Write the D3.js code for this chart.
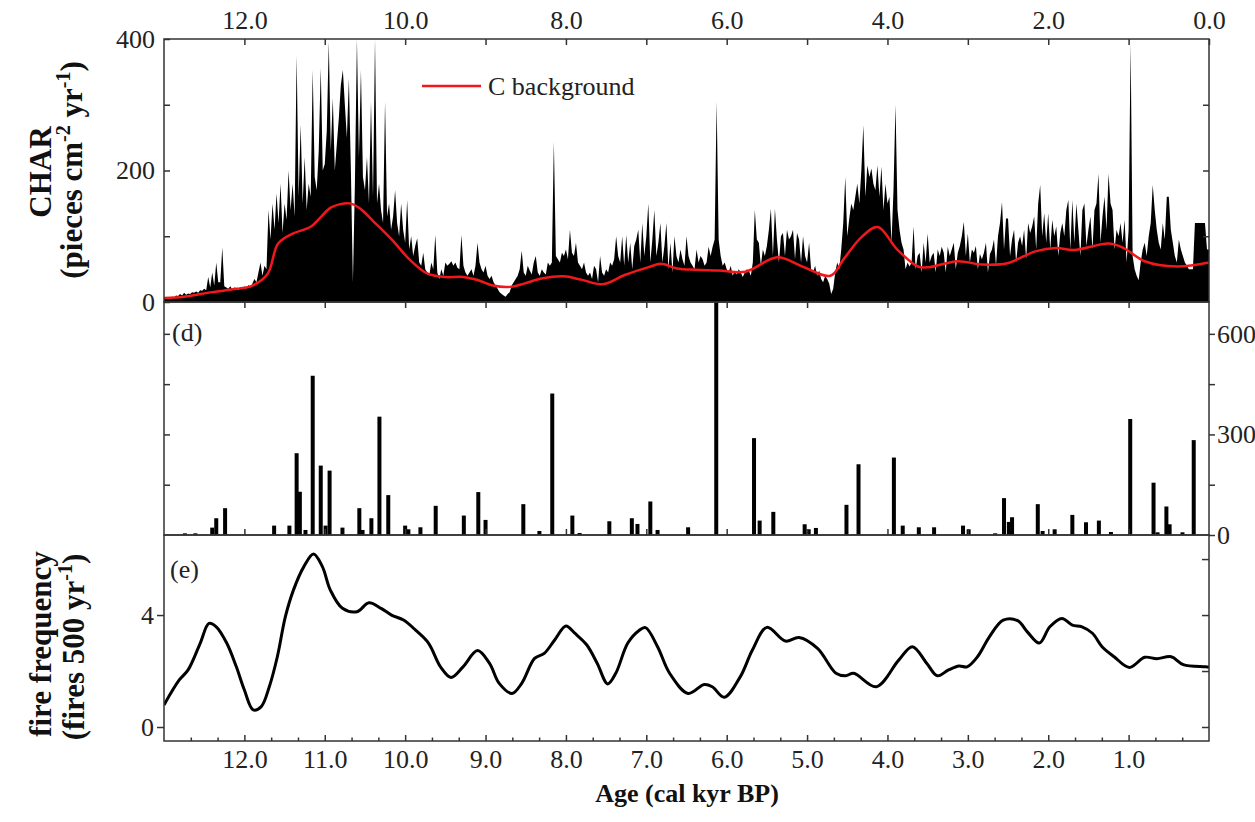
<!DOCTYPE html>
<html>
<head>
<meta charset="utf-8">
<script src="https://cdn.jsdelivr.net/npm/d3@7"></script>
<style>
body { margin: 0; background: #fff; }
svg { display: block; font-family: "Liberation Serif", "Times New Roman", serif; }
.axis line { stroke: #333; stroke-width: 1.5; }
.title { font-weight: bold; fill: #111; }
</style>
</head>
<body>
<script>
// ---- data ----
// CHAR record, one value every 0.025 kyr from 13.0 down to 0.0 cal kyr BP
var charStart = 13.0, charStep = 0.025;
var charVals = [
  5,6,6,7, 8,7,10,9, 12,10,14,11, 13,12,15,14, 16,14,18,17, 20,18,38,22, 45,25,60,30, 30,83,24,22, 20,24,19,22, 21,18,23,20,
  24,20,26,22, 28,35,30,45, 60,40,55,50, 140,95,150,110, 165,120,180,105, 150,125,200,140, 180,130,375,160, 270,150,220,140, 180,160,353,190, 170,230,356,200,
  210,260,396,230, 310,200,240,280, 330,353,300,250, 340,200,30,180, 400,220,353,190, 170,220,150,305, 160,400,150,180, 140,120,305,130, 150,110,130,170, 120,100,150,110,
  90,155,80,100, 70,85,97,60, 55,75,50,45, 40,60,50,102, 45,35,50,40, 60,55,58,62, 55,60,52,50, 102,55,45,40, 45,50,40,55, 90,60,50,45,
  55,40,35,40, 30,25,20,15, 12,10,8,12, 15,25,30,35, 40,50,78,45, 40,55,48,42, 60,70,45,40, 50,45,42,60, 55,60,244,70, 65,60,75,70,
  80,65,110,75, 70,90,60,55, 50,60,45,40, 45,35,55,50, 30,70,45,40, 50,45,60,55, 65,100,70,60, 100,55,102,60, 90,50,85,95, 110,60,120,70,
  100,150,60,95, 140,70,90,120, 60,85,120,50, 90,45,100,70, 60,80,65,55, 100,70,60,55, 50,80,60,70, 65,55,60,84, 70,84,95,305, 95,70,55,60,
  50,45,55,40, 48,42,50,45, 38,45,50,48, 40,60,140,95, 90,55,80,70, 85,110,142,70, 142,95,60,100, 105,70,110,95, 100,110,65,105, 95,60,100,70,
  60,90,50,45, 55,40,48,35, 30,40,35,28, 12,20,45,60, 50,80,120,190, 100,127,150,140, 160,180,150,200, 269,160,208,190, 203,180,170,208, 160,206,140,180,
  150,160,90,170, 300,140,110,90, 80,50,60,54, 60,115,50,70, 75,45,90,60, 104,60,70,75, 45,80,70,84, 75,45,84,70, 80,90,50,75, 85,100,122,70,
  104,60,80,75, 85,50,73,65, 75,90,45,73, 80,95,55,100, 120,152,80,127, 127,70,95,110, 60,90,100,85, 110,65,120,105, 115,130,80,150, 178,100,135,90,
  135,80,125,100, 115,70,105,120, 100,140,155,80, 155,90,150,110, 70,140,150,85, 110,130,80,140, 150,195,90,130, 160,110,195,150, 140,80,110,100, 120,90,125,60,
  110,393,70,50, 40,33,60,80, 90,70,100,120, 178,140,110,90, 80,120,95,160, 160,110,90,70, 60,95,80,70, 60,55,50,50, 50,120,120,120, 120,120,120,80,
  80
];

// C background (red line)
var bgAges = [13.0,12.75,12.4,12.1,11.9,11.71,11.58,11.4,11.18,11.05,10.92,10.69,10.56,10.39,10.16,9.94,9.72,9.5,9.28,9.09,8.91,8.69,8.52,8.29,8.03,7.81,7.54,7.27,6.97,6.82,6.62,6.39,6.1,5.77,5.37,5.06,4.71,4.54,4.32,4.12,3.88,3.62,3.48,3.13,2.82,2.51,2.16,1.9,1.68,1.24,1.06,0.8,0.4,0.0];
var bgVals = [6,8,15,20,25,43,89,104,114,129,144,150,142,122,94,64,43,38,38,33,25,23,28,36,39,34,27,41,53,58,51,49,48,46,68,54,40,66,99,114,80,54,53,62,57,59,77,82,79,89,82,62,54,60];

// (d) peak magnitude
var peakAges = [12.74,12.61,12.40,12.35,12.24,11.63,11.44,11.35,11.31,11.24,11.15,11.05,10.99,10.94,10.78,10.57,10.53,10.42,10.32,10.21,10.00,9.96,9.81,9.62,9.27,9.09,9.00,8.53,8.33,8.17,7.92,7.83,7.46,7.18,7.11,6.95,6.86,6.48,6.13,5.66,5.59,5.42,5.03,4.98,4.89,4.51,4.36,3.92,3.81,3.61,3.42,3.06,2.99,2.66,2.55,2.49,2.45,2.13,2.07,1.92,1.70,1.53,1.37,1.22,0.98,0.69,0.64,0.53,0.49,0.33,0.19];
var peakVals = [50,50,220,500,800,280,280,2440,1290,150,4750,2070,280,1920,220,800,150,500,3530,1190,280,170,230,870,580,1280,450,920,120,4220,580,60,410,500,330,1000,150,230,9000,2890,430,690,320,170,210,900,2110,2310,280,230,230,280,170,50,1100,390,530,920,120,170,600,380,430,90,3460,1560,80,850,320,80,2830];

// (e) fire frequency
var ffAges = [13.0,12.81,12.70,12.55,12.44,12.35,12.22,12.10,12.0,11.89,11.79,11.69,11.59,11.49,11.39,11.26,11.14,11.03,10.93,10.78,10.60,10.45,10.30,10.17,10.02,9.87,9.71,9.56,9.43,9.28,9.10,8.95,8.83,8.67,8.55,8.39,8.27,8.14,8.0,7.89,7.74,7.61,7.48,7.38,7.23,7.09,7.01,6.86,6.71,6.48,6.28,6.18,6.03,5.83,5.68,5.50,5.27,5.10,4.87,4.64,4.52,4.42,4.14,3.86,3.69,3.51,3.38,3.24,3.11,3.01,2.88,2.73,2.56,2.38,2.26,2.11,1.98,1.83,1.70,1.58,1.45,1.33,1.18,0.99,0.80,0.65,0.47,0.32,0.04,0.0];
var ffVals = [0.79,1.68,2.04,2.99,3.70,3.58,3.0,2.15,1.32,0.61,0.73,1.44,2.51,3.94,4.89,5.73,6.18,5.73,4.89,4.24,4.12,4.44,4.24,4.0,3.82,3.46,3.0,2.15,1.77,2.15,2.73,2.27,1.56,1.20,1.56,2.45,2.63,3.11,3.61,3.35,2.93,2.27,1.54,1.92,3.0,3.45,3.55,2.87,1.92,1.20,1.52,1.44,1.06,1.80,2.75,3.56,3.07,3.20,2.81,1.92,1.83,1.92,1.44,2.39,2.87,2.27,1.83,2.04,2.18,2.15,2.51,3.23,3.82,3.80,3.40,3.0,3.58,3.88,3.64,3.58,3.35,2.87,2.51,2.13,2.49,2.44,2.51,2.23,2.15,2.13];

// tick labels
var ageTopLabels = [12, 10, 8, 6, 4, 2, 0];
var ageBottomLabels = [12, 11, 10, 9, 8, 7, 6, 5, 4, 3, 2, 1];
var charLabels = [0, 200, 400];
var peakLabels = [0, 3000, 6000];
var ffLabels = [0, 4];

// ---- layout ----
var W = 1255, H = 822;
var L = 164, R = 1209;
var pA = {top: 39, bottom: 302}, pD = {top: 302, bottom: 535}, pE = {top: 535, bottom: 741};
var serif = '"Liberation Serif", "Times New Roman", serif';

var x = d3.scaleLinear().domain([13, 0]).range([L, R]);
var yChar = d3.scaleLinear().domain([0, 400]).range([pA.bottom, pA.top]);
var yPeak = d3.scaleLinear().domain([0, 6950]).range([pD.bottom, pD.top]);
var yFreq = d3.scaleLinear().domain([-0.5, 6.86]).range([pE.bottom, pE.top]);

var svg = d3.select("body").append("svg").attr("width", W).attr("height", H);
svg.append("rect").attr("width", W).attr("height", H).attr("fill", "#fff");

var defs = svg.append("defs");
[["clipA", pA], ["clipD", pD], ["clipE", pE]].forEach(function (c) {
  defs.append("clipPath").attr("id", c[0]).append("rect")
    .attr("x", L).attr("y", c[1].top).attr("width", R - L).attr("height", c[1].bottom - c[1].top);
});

// ---- panel A: CHAR ----
var charData = charVals.map(function (v, i) { return {age: charStart - i * charStep, v: v}; });
svg.append("path")
  .datum(charData)
  .attr("clip-path", "url(#clipA)")
  .attr("fill", "#000")
  .attr("d", d3.area()
    .x(function (d) { return x(d.age); })
    .y0(yChar(0))
    .y1(function (d) { return yChar(d.v); }));

var bgData = bgAges.map(function (a, i) { return {age: a, v: bgVals[i]}; });
svg.append("path")
  .datum(bgData)
  .attr("clip-path", "url(#clipA)")
  .attr("fill", "none")
  .attr("stroke", "#f2171b")
  .attr("stroke-width", 2.5)
  .attr("d", d3.line().curve(d3.curveCatmullRom.alpha(0.5))
    .x(function (d) { return x(d.age); })
    .y(function (d) { return yChar(d.v); }));

// legend
svg.append("line").attr("x1", 422).attr("x2", 481).attr("y1", 86).attr("y2", 86)
  .attr("stroke", "#f2171b").attr("stroke-width", 2.5);
svg.append("text").attr("x", 488).attr("y", 95).attr("font-size", 26).attr("fill", "#222").text("C background");

// ---- panel D: peak magnitude ----
svg.append("g").attr("clip-path", "url(#clipD)")
  .selectAll("rect").data(peakAges).enter().append("rect")
  .attr("x", function (a) { return x(a) - 2; })
  .attr("width", 4)
  .attr("y", function (a, i) { return yPeak(peakVals[i]); })
  .attr("height", function (a, i) { return yPeak(0) - yPeak(peakVals[i]); })
  .attr("fill", "#000");

// ---- panel E: fire frequency ----
var ffData = ffAges.map(function (a, i) { return {age: a, v: ffVals[i]}; });
svg.append("path")
  .datum(ffData)
  .attr("clip-path", "url(#clipE)")
  .attr("fill", "none")
  .attr("stroke", "#000")
  .attr("stroke-width", 3)
  .attr("stroke-linejoin", "round")
  .attr("d", d3.line().curve(d3.curveCatmullRom.alpha(0.5))
    .x(function (d) { return x(d.age); })
    .y(function (d) { return yFreq(d.v); }));

// ---- frames ----
[pA, pD, pE].forEach(function (p) {
  svg.append("rect").attr("x", L).attr("y", p.top).attr("width", R - L).attr("height", p.bottom - p.top)
    .attr("fill", "none").attr("stroke", "#333").attr("stroke-width", 1.5);
});

// ---- axes ----
function addAxis(axis, tx, ty) {
  var g = svg.append("g").attr("class", "axis")
    .attr("transform", "translate(" + tx + "," + ty + ")").call(axis);
  g.attr("font-family", serif).attr("font-size", 26);
  g.selectAll("text").style("font-family", serif).style("font-size", "26px").attr("fill", "#222");
  g.select(".domain").remove();
  return g;
}
var everyKyr = d3.range(0, 13);
var thirds = [];
everyKyr.forEach(function (k) { thirds.push(k + 1 / 3, k + 2 / 3); });
var fmt1 = d3.format(".1f");

// top age axis
addAxis(d3.axisTop(x).tickValues(everyKyr)
  .tickFormat(function (d) { return ageTopLabels.indexOf(d) >= 0 ? fmt1(d) : ""; })
  .tickSizeInner(-6).tickSizeOuter(0).tickPadding(10), 0, pA.top);
// ticks along the A/D border and D/E border
addAxis(d3.axisBottom(x).tickValues(everyKyr.slice(1)).tickFormat("").tickSizeInner(6).tickSizeOuter(0), 0, pD.top);
addAxis(d3.axisBottom(x).tickValues(everyKyr.slice(1)).tickFormat("").tickSizeInner(-6).tickSizeOuter(0), 0, pD.bottom);
// bottom age axis
addAxis(d3.axisBottom(x).tickValues(ageBottomLabels).tickFormat(fmt1)
  .tickSizeInner(-6).tickSizeOuter(0).tickPadding(9), 0, pE.bottom);
addAxis(d3.axisBottom(x).tickValues(thirds).tickFormat("").tickSizeInner(-3.5).tickSizeOuter(0), 0, pE.bottom);

// CHAR axes
addAxis(d3.axisLeft(yChar).tickValues([0, 100, 200, 300, 400])
  .tickFormat(function (d) { return charLabels.indexOf(d) >= 0 ? d : ""; })
  .tickSizeInner(-6).tickSizeOuter(0).tickPadding(9), L, 0);
addAxis(d3.axisRight(yChar).tickValues([100, 200, 300]).tickFormat("").tickSizeInner(-6).tickSizeOuter(0), R, 0);

// peak axes
addAxis(d3.axisLeft(yPeak).tickValues([1500, 3000, 4500, 6000]).tickFormat("").tickSizeInner(-6).tickSizeOuter(0), L, 0);
addAxis(d3.axisRight(yPeak).tickValues([0, 1500, 3000, 4500, 6000])
  .tickFormat(function (d) { return peakLabels.indexOf(d) >= 0 ? d : ""; })
  .tickSizeInner(6).tickSizeOuter(0).tickPadding(2), R, 0);

// fire frequency axes
addAxis(d3.axisLeft(yFreq).tickValues(ffLabels).tickSizeInner(7).tickSizeOuter(0).tickPadding(3), L, 0);
addAxis(d3.axisRight(yFreq).tickValues([0, 2, 4, 6]).tickFormat("").tickSizeInner(-7).tickSizeOuter(0), R, 0);

// ---- panel labels and titles ----
svg.append("text").attr("x", 172).attr("y", 341).attr("font-size", 26).attr("fill", "#222").text("(d)");
svg.append("text").attr("x", 170).attr("y", 578).attr("font-size", 26).attr("fill", "#222").text("(e)");

svg.append("text").attr("class", "title").attr("font-size", 31).attr("text-anchor", "middle")
  .attr("transform", "translate(51,172) rotate(-90)").text("CHAR");
var t1 = svg.append("text").attr("class", "title").attr("font-size", 31).attr("text-anchor", "middle")
  .attr("transform", "translate(82,170) rotate(-90)");
t1.append("tspan").text("(pieces cm");
t1.append("tspan").attr("font-size", 20).attr("dy", -12).text("-2");
t1.append("tspan").attr("dy", 12).text(" yr");
t1.append("tspan").attr("font-size", 20).attr("dy", -12).text("-1");
t1.append("tspan").attr("dy", 12).text(")");

svg.append("text").attr("class", "title").attr("font-size", 31).attr("text-anchor", "middle")
  .attr("transform", "translate(51,644) rotate(-90)").text("fire frequency");
var t2 = svg.append("text").attr("class", "title").attr("font-size", 31).attr("text-anchor", "middle")
  .attr("transform", "translate(84,647) rotate(-90)");
t2.append("tspan").text("(fires 500 yr");
t2.append("tspan").attr("font-size", 20).attr("dy", -12).text("-1");
t2.append("tspan").attr("dy", 12).text(")");

svg.append("text").attr("class", "title").attr("font-size", 26).attr("text-anchor", "middle")
  .attr("x", 687).attr("y", 802).text("Age (cal kyr BP)");
</script>
</body>
</html>
